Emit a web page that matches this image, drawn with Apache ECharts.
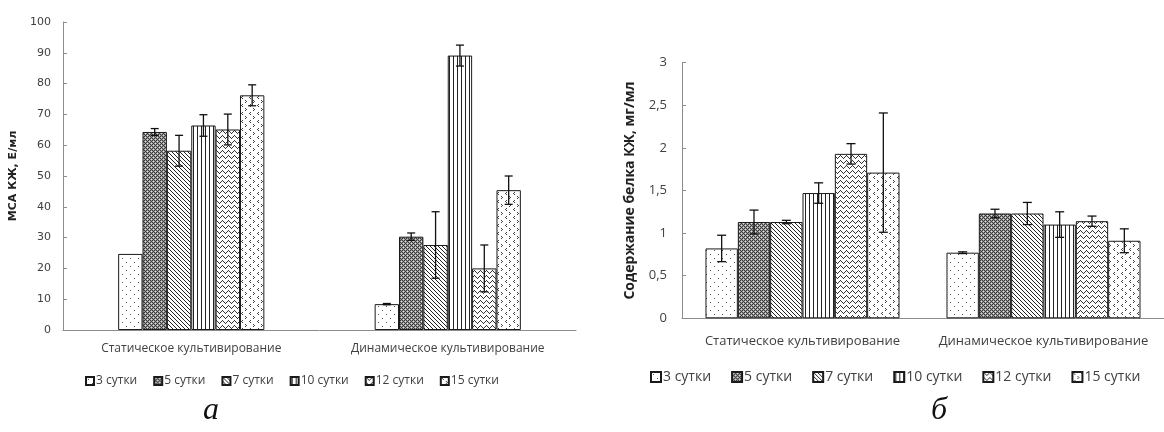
<!DOCTYPE html>
<html>
<head>
<meta charset="utf-8">
<script src="https://cdn.jsdelivr.net/npm/echarts@6/dist/echarts.min.js"></script>
<style>
html,body{margin:0;padding:0;background:#fff;}
#chart{width:1164px;height:432px;}
</style>
</head>
<body>
<div id="chart"></div>
<script>
// ---- data ----
const categories = ['Статическое культивирование', 'Динамическое культивирование'];
const seriesNames = ['3 сутки', '5 сутки', '7 сутки', '10 сутки', '12 сутки', '15 сутки'];

// Chart а: МСА КЖ, Е/мл
const msaStatic     = [24.7, 64.3, 58.2, 66.4, 65.1, 76.2];
const msaStaticErr  = [0, 1.1, 5.0, 3.5, 5.0, 3.4];
const msaDynamic    = [8.4, 30.3, 27.6, 89.1, 20.0, 45.4];
const msaDynamicErr = [0.2, 1.2, 10.8, 3.4, 7.6, 4.6];

// Chart б: Содержание белка КЖ, мг/мл
const protStatic     = [0.82, 1.13, 1.13, 1.47, 1.93, 1.71];
const protStaticErr  = [0.155, 0.14, 0.02, 0.12, 0.12, 0.70];
const protDynamic    = [0.77, 1.23, 1.23, 1.10, 1.14, 0.91];
const protDynamicErr = [0.01, 0.05, 0.13, 0.15, 0.06, 0.14];

const yNameLeft = 'МСА КЖ, Е/мл';
const yNameRight = 'Содержание белка КЖ, мг/мл';
const panelLabels = ['а', 'б'];

// ---- patterns ----
function makeCanvas(w, h, draw) {
  const c = document.createElement('canvas');
  c.width = w; c.height = h;
  const ctx = c.getContext('2d');
  ctx.fillStyle = '#fff';
  ctx.fillRect(0, 0, w, h);
  draw(ctx);
  return c;
}
function px(ctx, pts, color) {
  ctx.fillStyle = color;
  pts.forEach(p => ctx.fillRect(p[0], p[1], 1, 1));
}
const patterns = [
  // dots
  makeCanvas(8, 8, ctx => px(ctx, [[2, 2], [6, 6]], '#555')),
  // dark checker
  makeCanvas(4, 4, ctx => {
    ctx.fillStyle = '#9a9a9a'; ctx.fillRect(0, 0, 4, 4);
    px(ctx, [[0, 0], [2, 0], [1, 1], [3, 1], [0, 2], [2, 2], [1, 3], [3, 3]], '#3a3a3a');
    px(ctx, [[1, 1], [3, 3]], '#e0e0e0');
  }),
  // diagonal \ lines
  makeCanvas(4, 4, ctx => px(ctx, [[0, 0], [1, 1], [2, 2], [3, 3]], '#222')),
  // vertical lines
  makeCanvas(4, 4, ctx => { ctx.fillStyle = '#222'; ctx.fillRect(1, 0, 1, 4); }),
  // zigzag waves
  makeCanvas(6, 5, ctx => px(ctx, [[0, 0], [1, 1], [2, 2], [3, 3], [4, 2], [5, 1]], '#333')),
  // chevrons
  makeCanvas(8, 8, ctx => px(ctx, [[2, 0], [1, 1], [2, 2], [5, 4], [6, 5], [5, 6]], '#444'))
];

// ---- series ----
const series = [];
function addBars(gridIdx, staticVals, dynVals, gap) {
  seriesNames.forEach((name, i) => {
    series.push({
      name: name,
      type: 'bar',
      xAxisIndex: gridIdx,
      yAxisIndex: gridIdx,
      data: [staticVals[i], dynVals[i]],
      barGap: '0%',
      barCategoryGap: gap,
      itemStyle: {
        color: { image: patterns[i], repeat: 'repeat' },
        borderColor: '#1a1a1a',
        borderWidth: 1
      },
      emphasis: { disabled: true }
    });
  });
}
function addErrors(gridIdx, staticVals, staticErr, dynVals, dynErr, gapFrac, cap) {
  const data = [];
  seriesNames.forEach((n, i) => {
    data.push([0, i, staticVals[i], staticErr[i]]);
    data.push([1, i, dynVals[i], dynErr[i]]);
  });
  series.push({
    type: 'custom',
    xAxisIndex: gridIdx,
    yAxisIndex: gridIdx,
    data: data,
    z: 10,
    encode: { x: 0, y: 2 },
    renderItem: function (params, api) {
      const cat = api.value(0), s = api.value(1), v = api.value(2), e = api.value(3);
      if (!e) return null;
      const band = api.size([1, 0])[0];
      const bw = band * (1 - gapFrac) / 6;
      const c = api.coord([cat, v]);
      const x = c[0] + (s - 2.5) * bw;
      const yH = api.coord([cat, v + e])[1];
      const yL = api.coord([cat, v - e])[1];
      const st = { stroke: '#111', lineWidth: 1.3 };
      return {
        type: 'group',
        children: [
          { type: 'line', shape: { x1: x, y1: yH, x2: x, y2: yL }, style: st },
          { type: 'line', shape: { x1: x - cap, y1: yH, x2: x + cap, y2: yH }, style: st },
          { type: 'line', shape: { x1: x - cap, y1: yL, x2: x + cap, y2: yL }, style: st }
        ]
      };
    }
  });
}
addBars(0, msaStatic, msaDynamic, '43%');
addBars(1, protStatic, protDynamic, '19.5%');
addErrors(0, msaStatic, msaStaticErr, msaDynamic, msaDynamicErr, 0.43, 4);
addErrors(1, protStatic, protStaticErr, protDynamic, protDynamicErr, 0.195, 4.5);

const axisColor = '#8c8c8c';
const textColor = '#404040';

function xAxis(gridIdx, fontSize, margin) {
  return {
    gridIndex: gridIdx,
    type: 'category',
    data: categories,
    axisLine: { lineStyle: { color: axisColor } },
    axisTick: { inside: true, length: 5, lineStyle: { color: axisColor } },
    axisLabel: { color: textColor, fontSize: fontSize, margin: margin, fontFamily: 'Open Sans', interval: 0 }
  };
}

const option = {
  animation: false,
  backgroundColor: '#fff',
  grid: [
    { left: 63, top: 22, width: 513, height: 308 },
    { left: 682, top: 62.7, width: 492, height: 255.6 }
  ],
  xAxis: [xAxis(0, 12, 13), xAxis(1, 13, 16)],
  yAxis: [
    {
      gridIndex: 0, type: 'value', min: 0, max: 100, interval: 10,
      name: yNameLeft, nameLocation: 'middle', nameGap: 44, nameRotate: 90,
      nameTextStyle: { fontSize: 11, fontWeight: 'bold', color: '#222', fontFamily: 'DejaVu Sans' },
      splitLine: { show: false },
      axisLine: { show: true, lineStyle: { color: axisColor } },
      axisTick: { show: true, inside: true, length: 4, lineStyle: { color: axisColor } },
      axisLabel: { color: textColor, fontSize: 11, margin: 12, fontFamily: 'DejaVu Sans' }
    },
    {
      gridIndex: 1, type: 'value', min: 0, max: 3, interval: 0.5,
      name: yNameRight, nameLocation: 'middle', nameGap: 45, nameRotate: 90,
      nameTextStyle: { fontSize: 14, fontWeight: 'bold', color: '#222', fontFamily: 'Open Sans' },
      splitLine: { show: false },
      axisLine: { show: true, lineStyle: { color: axisColor } },
      axisTick: { show: true, inside: true, length: 4, lineStyle: { color: axisColor } },
      axisLabel: {
        color: textColor, fontSize: 13, margin: 15, fontFamily: 'Open Sans',
        formatter: v => String(v).replace('.', ',')
      }
    }
  ],
  legend: [
    {
      data: seriesNames, left: 80, top: 370, itemWidth: 8, itemHeight: 8, itemGap: 16,
      selectedMode: false, icon: 'rect',
      textStyle: { fontSize: 12, color: textColor, fontFamily: 'Open Sans', padding: [0, 0, 0, -3] }
    },
    {
      data: seriesNames, left: 645, top: 365, itemWidth: 10, itemHeight: 10, itemGap: 20,
      selectedMode: false, icon: 'rect',
      textStyle: { fontSize: 14, color: textColor, fontFamily: 'Open Sans', padding: [0, 0, 0, -3] }
    }
  ],
  graphic: [
    { type: 'text', left: 203, top: 395, style: { text: panelLabels[0], font: 'italic 32px "Liberation Serif"', fill: '#111' } },
    { type: 'text', left: 931, top: 395, style: { text: panelLabels[1], font: 'italic 32px "Liberation Serif"', fill: '#111' } }
  ],
  series: series
};

const chart = echarts.init(document.getElementById('chart'), null, { renderer: 'canvas' });
chart.setOption(option);
</script>
</body>
</html>
